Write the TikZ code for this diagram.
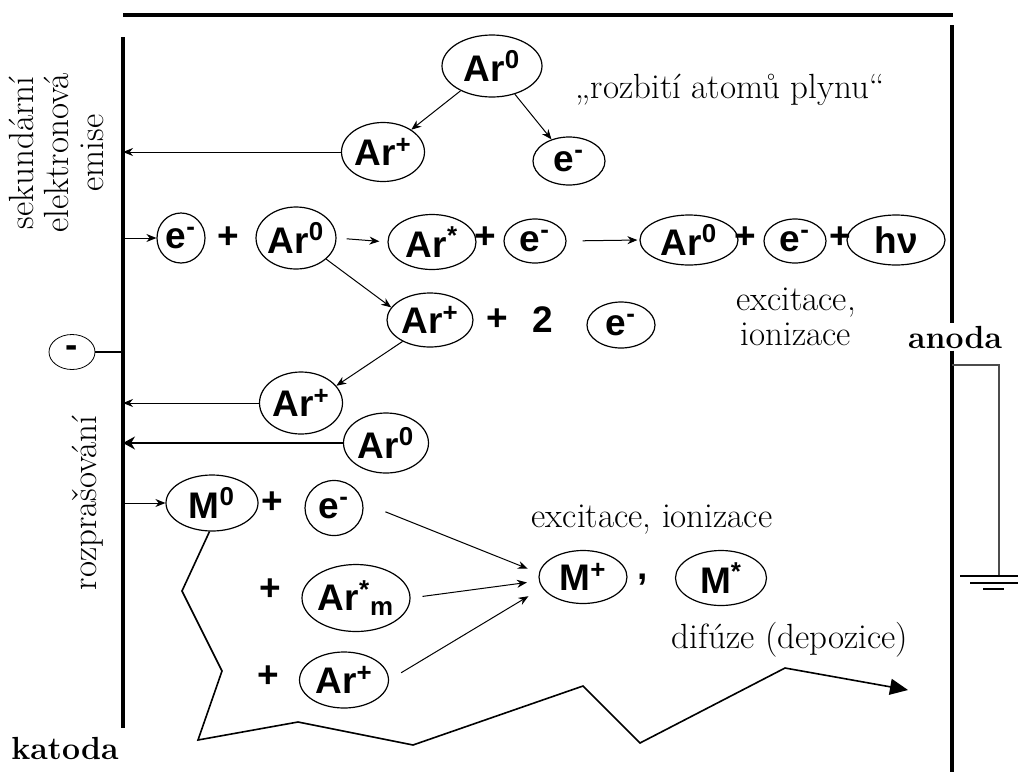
\documentclass[tikz,border=0pt]{standalone}
\usepackage{fontspec}
\newfontfamily\partfont{Liberation Sans}
\usetikzlibrary{shapes.geometric,arrows.meta}

\begin{document}
\begin{tikzpicture}[x=0.5pt,y=-0.5pt,
  part/.style={draw,ellipse,inner sep=0pt,line width=0.6pt,font=\partfont\bfseries\fontsize{18.5}{18.5}\selectfont},
  sign/.style={font=\partfont\bfseries\fontsize{18.5}{18.5}\selectfont},
  txt/.style={font=\fontsize{17.5}{17.5}\selectfont,align=center},
  link/.style={line width=0.5pt,-{Stealth[length=5pt,width=4pt]}},
  wall/.style={line width=1.6pt}]
\useasboundingbox (0,0) rectangle (1018,772);

% electrodes
\coordinate (kt) at (123,37);
\coordinate (kb) at (123,728);
\coordinate (at) at (952,25);
\coordinate (ab) at (952,772);
\draw[wall] (123,15) -- (953,15);
\draw[wall] (kt) -- (kb);
\node [font=\bfseries\fontsize{16}{16}\selectfont,inner sep=1pt] (an) at (955,337) {anoda};
\node [font=\bfseries\fontsize{16}{16}\selectfont] (kat) at (65,748) {katoda};
\draw[wall] (at) -- (an.north -| at);
\draw[wall] (an.south -| at) -- (ab);

% ground
\coordinate (g0) at (952,365);
\coordinate (g1) at (999,576);
\draw[line width=0.6pt,black!70] (g0) -| (g1);
\draw[line width=0.8pt] (960,576) -- (1018,576);
\draw[line width=0.8pt] (970,583) -- (1018,583);
\draw[line width=0.8pt] (983,589) -- (1004,589);

% supply
\node [part,minimum width=23pt,minimum height=17.5pt,line width=0.4pt] (minus) at (72,352) {-};
\draw[line width=0.6pt] (minus.east) -- (minus.east -| kt);

% side labels
\node [txt,rotate=90] (emise) at (56,153) {sekundární\\elektronová\\emise};
\node [txt,rotate=90] (rozpr) at (88,503) {rozprašování};

% breaking of gas atoms
\node [part,minimum width=50pt,minimum height=31pt] (ar0) at (492,66) {Ar\textsuperscript{0}};
\node [part,minimum width=41.5pt,minimum height=29.5pt] (arp) at (383,152) {Ar\textsuperscript{+}};
\node [part,minimum width=36pt,minimum height=24pt] (el) at (569,161) {e\textsuperscript{-}};
\node [txt] (rozb) at (730,90) {„rozbití atomů plynu“};
\draw[link] (ar0) -- (arp);
\draw[link] (ar0) -- (el);
\draw[link] (arp.west) -- (arp.west -| kt);

% excitation, ionization
\node [part,minimum width=24pt,minimum height=25pt] (e1) at (181,238) {e\textsuperscript{-}};
\node [sign] (p1) at (228,238) {+};
\node [part,minimum width=38pt,minimum height=31pt] (ar1) at (296,238) {Ar\textsuperscript{0}};
\node [part,minimum width=44pt,minimum height=27.5pt] (arx) at (432,242) {Ar\textsuperscript{*}};
\node [sign] (p2) at (485,238) {+};
\node [part,minimum width=31pt,minimum height=22pt] (e2) at (535,241) {e\textsuperscript{-}};
\node [part,minimum width=49pt,minimum height=25pt] (ar2) at (689,240) {Ar\textsuperscript{0}};
\node [sign] (p3) at (745,238) {+};
\node [part,minimum width=31pt,minimum height=22pt] (e3) at (795,241) {e\textsuperscript{-}};
\node [sign] (p4) at (840,238) {+};
\node [part,minimum width=49pt,minimum height=25pt] (hnu) at (896,240) {hν};
\draw[link] (e1.west -| kt) -- (e1.west);
\draw[link,shorten <=5pt,shorten >=4pt] (ar1.east) -- (arx.west);
\draw[link,shorten <=8pt,shorten >=1pt] (e2.east) -- (ar2.west);

\node [part,minimum width=43pt,minimum height=27pt] (arp2) at (430,320) {Ar\textsuperscript{+}};
\node [sign] (p5) at (497,320) {+};
\node [sign] (two) at (543,320) {2};
\node [part,minimum width=34pt,minimum height=23pt] (e4) at (621,325) {e\textsuperscript{-}};
\node [txt] (exc1) at (796,317) {excitace,\\ionizace};
\draw[link] (ar1.-35) -- (arp2.162);

% sputtering
\node [part,minimum width=41.5pt,minimum height=31pt] (arp3) at (301,403) {Ar\textsuperscript{+}};
\node [part,minimum width=42.5pt,minimum height=30pt] (ar3) at (386,443) {Ar\textsuperscript{0}};
\draw[link] (arp2.218) -- (arp3.26);
\draw[link] (arp3.west) -- (arp3.west -| kt);
\draw[line width=0.6pt,-{Stealth[length=6pt,width=6.5pt]}] (ar3.west) -- (ar3.west -| kt);

% sputtered metal
\node [part,minimum width=46pt,minimum height=28pt] (m0) at (212,503) {M\textsuperscript{0}};
\node [sign] (p6) at (272,503) {+};
\node [part,minimum width=29pt,minimum height=27.5pt] (e5) at (334,508) {e\textsuperscript{-}};
\node [sign] (p7) at (270,590) {+};
\node [part,minimum width=54pt,minimum height=33.5pt] (arm) at (356,598) {Ar\textsuperscript{*}\textsubscript{m}};
\node [sign] (p8) at (268,677) {+};
\node [part,minimum width=44.5pt,minimum height=28pt] (arp4) at (344,680) {Ar\textsuperscript{+}};
\node [part,minimum width=44pt,minimum height=26.5pt] (mp) at (583,577) {M\textsuperscript{+}};
\node [sign] (comma) at (643,580) {,};
\node [part,minimum width=45.5pt,minimum height=27.5pt] (mx) at (721,578) {M\textsuperscript{*}};
\node [txt] (exc2) at (652,520) {excitace, ionizace};
\node [txt] (dif) at (790,640) {difúze (depozice)};
\draw[link] (m0.west -| kt) -- (m0.west);
\draw[link,shorten <=12pt,shorten >=6pt] (e5.10) -- (mp.175);
\draw[link,shorten <=6pt,shorten >=6pt] (arm.east) -- (mp.185);
\draw[link,shorten <=7pt,shorten >=8pt] (arp4.east) -- (mp.195);

% path of the sputtered atom
\draw[line width=0.8pt,-{Stealth[length=9pt,width=8pt,inset=0pt]}]
  (m0.-95) -- (182,591) -- (222,671) -- (198,740) -- (298,722) -- (413,745)
  -- (583,686) -- (640,743) -- (785,668) -- (908,690);

\end{tikzpicture}
\end{document}
